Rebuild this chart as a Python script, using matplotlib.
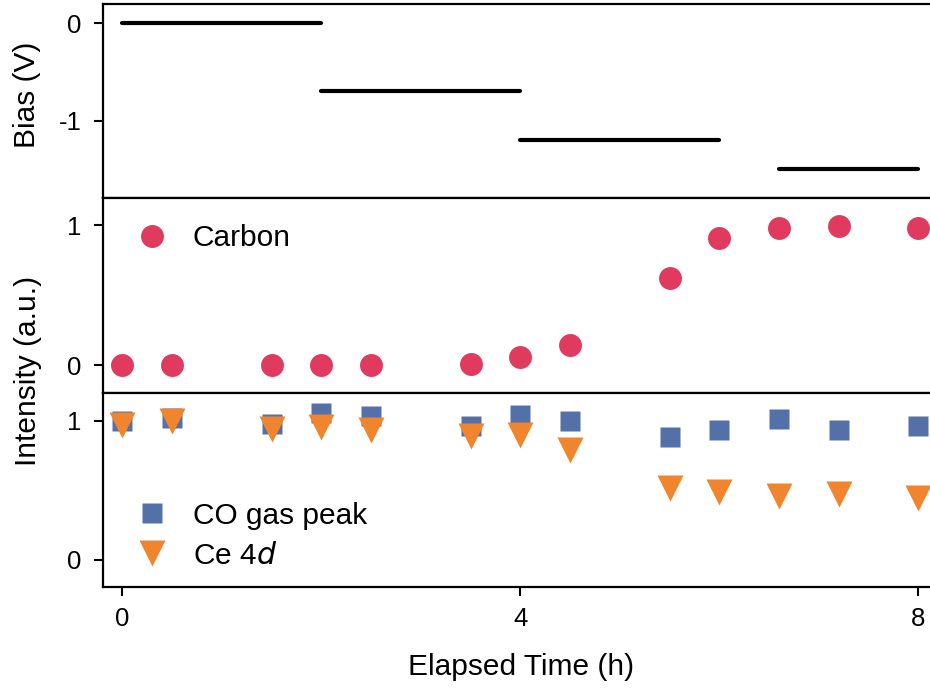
import matplotlib
matplotlib.use("Agg")
import matplotlib.pyplot as plt

plt.rcParams['font.family'] = ['Liberation Sans', 'DejaVu Sans']
plt.rcParams['font.size'] = 18.5

# bias steps (start h, end h, V)
bias_start = [0, 2, 4, 6.6]
bias_end = [2, 4, 6, 8]
bias_volt = [0, -0.7, -1.2, -1.5]

# time points (h)
time_h = [0, 0.5, 1.5, 2, 2.5, 3.5, 4, 4.5, 5.5, 6, 6.6, 7.2, 8]
carbon = [0.0, 0.0, 0.0, 0.0, 0.0, 0.01, 0.055, 0.143, 0.62, 0.907, 0.981, 0.993, 0.976]
co_gas = [1.0, 1.016, 0.979, 1.055, 1.032, 0.96, 1.041, 1.0, 0.883, 0.935, 1.014, 0.931, 0.96]
ce_4d = [0.971, 0.996, 0.937, 0.955, 0.935, 0.887, 0.9, 0.792, 0.517, 0.485, 0.457, 0.475, 0.445]

red = '#E03A5F'
blue = '#5470A8'
orange = '#F0852D'
big = 21.5

W, H = 930, 688
fig = plt.figure(figsize=(W / 100, H / 100), dpi=100)

left = 103 / W
right = 1.0
xlim = (-0.194, 8.117)

def add_ax(top_px, bot_px):
    return fig.add_axes([left, 1 - bot_px / H, right - left, (bot_px - top_px) / H])

ax1 = add_ax(4, 198)
ax2 = add_ax(198, 392.5)
ax3 = add_ax(392.5, 587)

for a, b, v in zip(bias_start, bias_end, bias_volt):
    ax1.plot([a, b], [v, v], color='black', lw=3, solid_capstyle='round')
ax1.set_ylim(-1.794, 0.198)
ax1.set_yticks([0, -1])
ax1.set_yticklabels(['0', '-1'])

ax2.plot(time_h, carbon, 'o', color=red, ms=16.5, mec='none', label='Carbon')
ax2.set_ylim(-0.196, 1.193)
ax2.set_yticks([0, 1])
ax2.legend(loc='upper left', bbox_to_anchor=(0.003, 0.98), frameon=False, fontsize=big,
           handletextpad=0.58, borderaxespad=0.35, handlelength=1.6)

ax3.plot(time_h, co_gas, 's', color=blue, ms=14.5, mec='none', label='CO gas peak')
ax3.plot(time_h, ce_4d, 'v', color=orange, ms=19, mec='none', label='Ce 4$\\mathit{d}$')
ax3.set_ylim(-0.194, 1.202)
ax3.set_yticks([0, 1])
ax3.legend(loc='lower left', bbox_to_anchor=(0.003, -0.027), frameon=False, fontsize=big,
           handletextpad=0.58, borderaxespad=0.35, handlelength=1.6, labelspacing=0.4)

for ax in (ax1, ax2, ax3):
    ax.set_xlim(*xlim)
    ax.spines['right'].set_visible(False)
    for s in ('left', 'top', 'bottom'):
        ax.spines[s].set_linewidth(1.6)
    ax.tick_params(axis='y', direction='out', length=6.5, width=1.5, pad=9)
    ax.tick_params(axis='x', direction='out', length=6.5, width=1.5, pad=8)
    ax.set_xticks([0, 4, 8])

for ax in (ax1, ax2):
    ax.tick_params(axis='x', bottom=False, labelbottom=False)

fig.text(27 / W, 1 - 95 / H, 'Bias (V)', rotation=90, ha='center', va='center', fontsize=big)
fig.text(28 / W, 1 - 371 / H, 'Intensity (a.u.)', rotation=90, ha='center', va='center', fontsize=big)
fig.text(521.5 / W, 1 - 667 / H, 'Elapsed Time (h)', ha='center', va='center', fontsize=big)

fig.savefig('out.png', dpi=100)
